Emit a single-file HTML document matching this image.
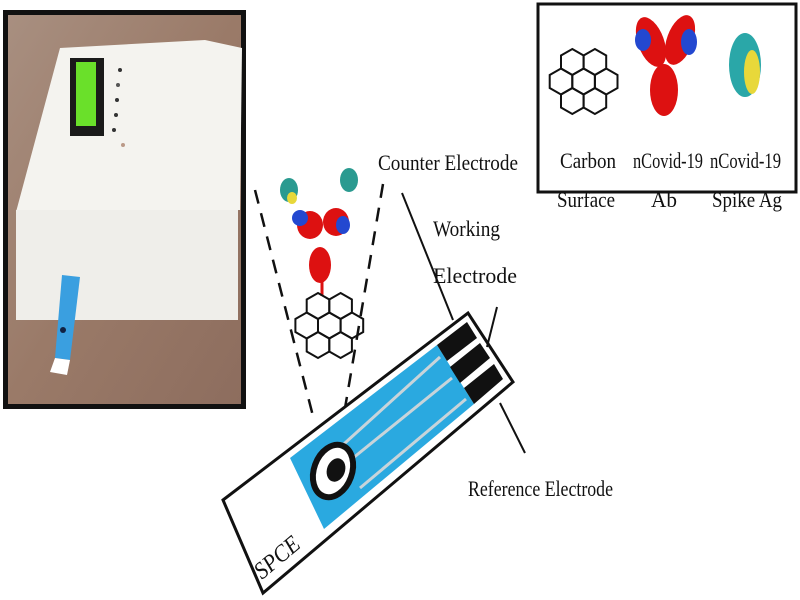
<!DOCTYPE html>
<html><head><meta charset="utf-8"><style>
body{margin:0;width:800px;height:600px;background:#fff;overflow:hidden}
svg{display:block}
text{font-family:"Liberation Serif",serif;fill:#111}
</style></head><body>
<svg width="800" height="600" viewBox="0 0 800 600">
<defs>
<polygon id="hx" points="0,-13 11.3,-6.5 11.3,6.5 0,13 -11.3,6.5 -11.3,-6.5" fill="none" stroke="#111" stroke-width="2"/>
<linearGradient id="wood" x1="0" y1="0" x2="1" y2="1">
<stop offset="0" stop-color="#a88f80"/><stop offset="0.5" stop-color="#9a7a68"/><stop offset="1" stop-color="#8d6d5e"/></linearGradient>
</defs>
<!-- photo -->
<rect x="3" y="10" width="243" height="399" fill="#111"/>
<rect x="8" y="15" width="233" height="389" fill="url(#wood)"/>
<polygon points="60,48 205,40 242,48 240,210 16,212" fill="#f4f3ef"/>
<rect x="16" y="210" width="222" height="110" fill="#efeeea"/>
<rect x="70" y="58" width="34" height="78" fill="#1a1a1a"/>
<rect x="76" y="62" width="20" height="64" fill="#6ae02a"/>
<circle cx="120" cy="70" r="2" fill="#333"/><circle cx="118" cy="85" r="2" fill="#555"/><circle cx="117" cy="100" r="2" fill="#333"/><circle cx="116" cy="115" r="2" fill="#333"/><circle cx="114" cy="130" r="2" fill="#333"/><circle cx="123" cy="145" r="2" fill="#b98"/>
<polygon points="62,275 80,277 70,360 55,358" fill="#3a9fe0"/>
<polygon points="55,358 70,360 67,375 50,372" fill="#fff"/>
<circle cx="63" cy="330" r="3" fill="#124"/>
<!-- legend -->
<rect x="538" y="4" width="258" height="188" fill="#fff" stroke="#111" stroke-width="3"/>
<g><use href="#hx" x="572.3" y="62"/><use href="#hx" x="594.9" y="62"/><use href="#hx" x="561" y="81.5"/><use href="#hx" x="583.6" y="81.5"/><use href="#hx" x="606.2" y="81.5"/><use href="#hx" x="572.3" y="101"/><use href="#hx" x="594.9" y="101"/></g>
<g>
<ellipse cx="651" cy="42" rx="13" ry="26" fill="#d11" transform="rotate(-20 651 42)"/>
<ellipse cx="680" cy="40" rx="13" ry="26" fill="#d11" transform="rotate(20 680 40)"/>
<ellipse cx="643" cy="40" rx="8" ry="11" fill="#2348d0"/><ellipse cx="689" cy="42" rx="8" ry="13" fill="#2348d0"/>
<ellipse cx="664" cy="90" rx="14" ry="26" fill="#d11"/>
</g>
<g><ellipse cx="745" cy="65" rx="16" ry="32" fill="#2aa7a8"/><ellipse cx="752" cy="72" rx="8" ry="22" fill="#e8d83a"/></g>
<g font-size="22">
<text x="560" y="168" textLength="56" lengthAdjust="spacingAndGlyphs">Carbon</text>
<text x="557" y="207" textLength="58" lengthAdjust="spacingAndGlyphs">Surface</text>
<text x="633" y="168" textLength="70" lengthAdjust="spacingAndGlyphs">nCovid-19</text>
<text x="651" y="207" textLength="26" lengthAdjust="spacingAndGlyphs">Ab</text>
<text x="710" y="168" textLength="71" lengthAdjust="spacingAndGlyphs">nCovid-19</text>
<text x="712" y="207" textLength="70" lengthAdjust="spacingAndGlyphs">Spike Ag</text>
</g>
<!-- dashed cone -->
<line x1="255" y1="190" x2="314" y2="420" stroke="#111" stroke-width="2.5" stroke-dasharray="14,10"/>
<line x1="383" y1="184" x2="343" y2="420" stroke="#111" stroke-width="2.5" stroke-dasharray="14,10"/>
<!-- antibody mini -->
<g>
<ellipse cx="289" cy="190" rx="9" ry="12" fill="#2a9a90"/><ellipse cx="349" cy="180" rx="9" ry="12" fill="#2a9a90"/>
<ellipse cx="292" cy="198" rx="5" ry="6" fill="#e8d83a"/>
<ellipse cx="310" cy="225" rx="13" ry="14" fill="#d11"/><ellipse cx="336" cy="222" rx="13" ry="14" fill="#d11"/>
<ellipse cx="300" cy="218" rx="8" ry="8" fill="#2348d0"/><ellipse cx="343" cy="225" rx="7" ry="9" fill="#2348d0"/>
<ellipse cx="320" cy="265" rx="11" ry="18" fill="#d11"/>
<line x1="322" y1="282" x2="322" y2="296" stroke="#d11" stroke-width="3"/>
</g>
<g><use href="#hx" x="318" y="306"/><use href="#hx" x="340.6" y="306"/><use href="#hx" x="306.7" y="325.5"/><use href="#hx" x="329.3" y="325.5"/><use href="#hx" x="351.9" y="325.5"/><use href="#hx" x="318" y="345"/><use href="#hx" x="340.6" y="345"/></g>
<!-- strip -->
<polygon points="223,500 468,313 513,382 263,593" fill="#fff" stroke="#111" stroke-width="3" stroke-linejoin="miter"/>
<polygon points="290,458 437,345 474,404 324,529" fill="#2aa9e0"/>
<polygon points="437,345 467,322 477,338 447,361" fill="#111"/>
<polygon points="450,367 480,343 490,358 460,383" fill="#111"/>
<polygon points="464,388 494,364 503,379 474,404" fill="#111"/>
<g stroke="#c8d4da" stroke-width="3">
<line x1="335" y1="452" x2="440" y2="357"/><line x1="337" y1="471" x2="452" y2="378"/><line x1="360" y1="488" x2="466" y2="399"/></g>
<ellipse cx="333" cy="471" rx="19" ry="27" fill="#fff" stroke="#111" stroke-width="6" transform="rotate(20 333 471)"/>
<ellipse cx="336" cy="470" rx="9" ry="12" fill="#111" transform="rotate(20 336 470)"/>
<text x="0" y="0" font-size="24" font-style="italic" transform="translate(262,580) rotate(-40)" textLength="52" lengthAdjust="spacingAndGlyphs">SPCE</text>
<!-- leader lines -->
<line x1="402" y1="193" x2="453" y2="320" stroke="#111" stroke-width="2"/>
<line x1="497" y1="307" x2="487" y2="347" stroke="#111" stroke-width="2"/>
<line x1="500" y1="403" x2="525" y2="453" stroke="#111" stroke-width="2"/>
<g font-size="22">
<text x="378" y="170" textLength="140" lengthAdjust="spacingAndGlyphs">Counter Electrode</text>
<text x="433" y="236" textLength="67" lengthAdjust="spacingAndGlyphs">Working</text>
<text x="433" y="283" textLength="84" lengthAdjust="spacingAndGlyphs">Electrode</text>
<text x="468" y="496" textLength="145" lengthAdjust="spacingAndGlyphs">Reference Electrode</text>
</g>
</svg>
</body></html>
